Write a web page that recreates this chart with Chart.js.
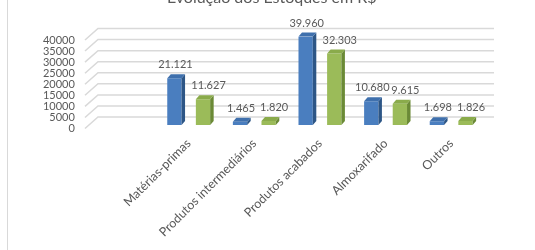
<!DOCTYPE html>
<html>
<head>
<meta charset="utf-8">
<script src="https://cdn.jsdelivr.net/npm/chart.js@4"></script>
<style>
  html, body { margin: 0; padding: 0; background: #fff; overflow: hidden; }
  #wrap { position: relative; width: 535px; height: 250px; overflow: hidden; }
  #estoquesChart { position: absolute; left: 0; top: -12px; }
  #frame { position: absolute; left: 7px; top: 0; height: 250px; border-left: 1px solid #d9d9d9; }
</style>
</head>
<body>
<div id="wrap">
  <canvas id="estoquesChart" width="535" height="262"></canvas>
  <div id="frame"></div>
</div>
<script>
// data
const categories = ['Matérias-primas', 'Produtos intermediários', 'Produtos acabados', 'Almoxarifado', 'Outros'];
const serie1 = [21121, 1465, 39960, 10680, 1698];
const serie2 = [11627, 1820, 32303, 9615, 1826];
const yTicks = [0, 5000, 10000, 15000, 20000, 25000, 30000, 35000, 40000];

const textColor = '#595959';
const depthX = 3.5, depthY = 4;

function fmt(v) {
    return String(v).replace(/\B(?=(\d{3})+(?!\d))/g, '.');
}

// back wall grid + 3d sides + value labels
const bars3d = {
    id: 'bars3d',
    beforeDatasetsDraw(chart) {
        const ctx = chart.ctx;
        const y = chart.scales.y;
        ctx.save();
        ctx.strokeStyle = '#d9d9d9';
        ctx.lineWidth = 1.5;
        yTicks.forEach(v => {
            const py = y.getPixelForValue(v);
            ctx.beginPath();
            ctx.moveTo(85, py + 3.5);
            ctx.lineTo(98, py - 8);
            ctx.lineTo(494, py - 8);
            ctx.stroke();
        });
        ctx.restore();
    },
    afterDatasetsDraw(chart) {
        const ctx = chart.ctx;
        ctx.save();
        chart.data.datasets.forEach((ds, i) => {
            const meta = chart.getDatasetMeta(i);
            meta.data.forEach((bar, j) => {
                const left = bar.x - bar.width / 2;
                const right = bar.x + bar.width / 2;
                const top = bar.y, base = bar.base;
                // side
                ctx.fillStyle = ds.sideColor;
                ctx.beginPath();
                ctx.moveTo(right, top);
                ctx.lineTo(right + depthX, top - depthY);
                ctx.lineTo(right + depthX, base - depthY);
                ctx.lineTo(right, base);
                ctx.closePath();
                ctx.fill();
                // top
                ctx.fillStyle = ds.topColor;
                ctx.beginPath();
                ctx.moveTo(left, top);
                ctx.lineTo(left + depthX, top - depthY);
                ctx.lineTo(right + depthX, top - depthY);
                ctx.lineTo(right, top);
                ctx.closePath();
                ctx.fill();
                // value label
                ctx.fillStyle = textColor;
                ctx.font = '11px Lato';
                ctx.textAlign = 'center';
                ctx.textBaseline = 'middle';
                ctx.fillText(fmt(ds.data[j]), bar.x + ds.labelShift, top - 13.5);
            });
        });
        ctx.restore();
    }
};

Chart.defaults.font.family = 'Lato';
Chart.defaults.color = textColor;

const ctx = document.getElementById('estoquesChart').getContext('2d');
const estoquesChart = new Chart(ctx, {
    type: 'bar',
    data: {
        labels: categories,
        datasets: [{
            label: 'Série1',
            data: serie1,
            backgroundColor: '#4a7ebf',
            sideColor: '#2d5686',
            topColor: '#3f70ad',
            labelShift: 1,
            categoryPercentage: 0.872,
            barPercentage: 0.5
        }, {
            label: 'Série2',
            data: serie2,
            backgroundColor: '#9bbb59',
            sideColor: '#6b8a36',
            topColor: '#8aab4b',
            labelShift: 5.5,
            categoryPercentage: 0.872,
            barPercentage: 0.5
        }]
    },
    options: {
        responsive: false,
        animation: false,
        layout: {
            padding: { left: 59.5, right: 51, top: 0, bottom: 0 }
        },
        plugins: {
            legend: { display: false },
            tooltip: { enabled: false },
            title: {
                display: true,
                text: 'Evolução dos Estoques em R$',
                color: textColor,
                font: { size: 16, weight: 'normal' },
                padding: { top: 0.7, bottom: 28.6 }
            }
        },
        scales: {
            x: {
                grid: { display: false, drawTicks: false },
                border: { display: false },
                ticks: {
                    minRotation: 45,
                    maxRotation: 45,
                    autoSkip: false,
                    padding: 11,
                    labelOffset: 0,
                    font: { size: 12.5 }
                },
                afterFit(scale) { scale.height = 125; }
            },
            y: {
                min: 0,
                max: 40000,
                grid: { display: false, drawTicks: false },
                border: { display: false },
                afterBuildTicks(scale) { scale.ticks = yTicks.map(v => ({ value: v })); },
                ticks: {
                    mirror: true,
                    crossAlign: 'far',
                    padding: -113,
                    labelOffset: 3.5,
                    autoSkip: false,
                    font: { size: 11 },
                    callback: v => String(v)
                },
                afterFit(scale) { scale.width = 96.4; }
            }
        }
    },
    plugins: [bars3d]
});
</script>
</body>
</html>
